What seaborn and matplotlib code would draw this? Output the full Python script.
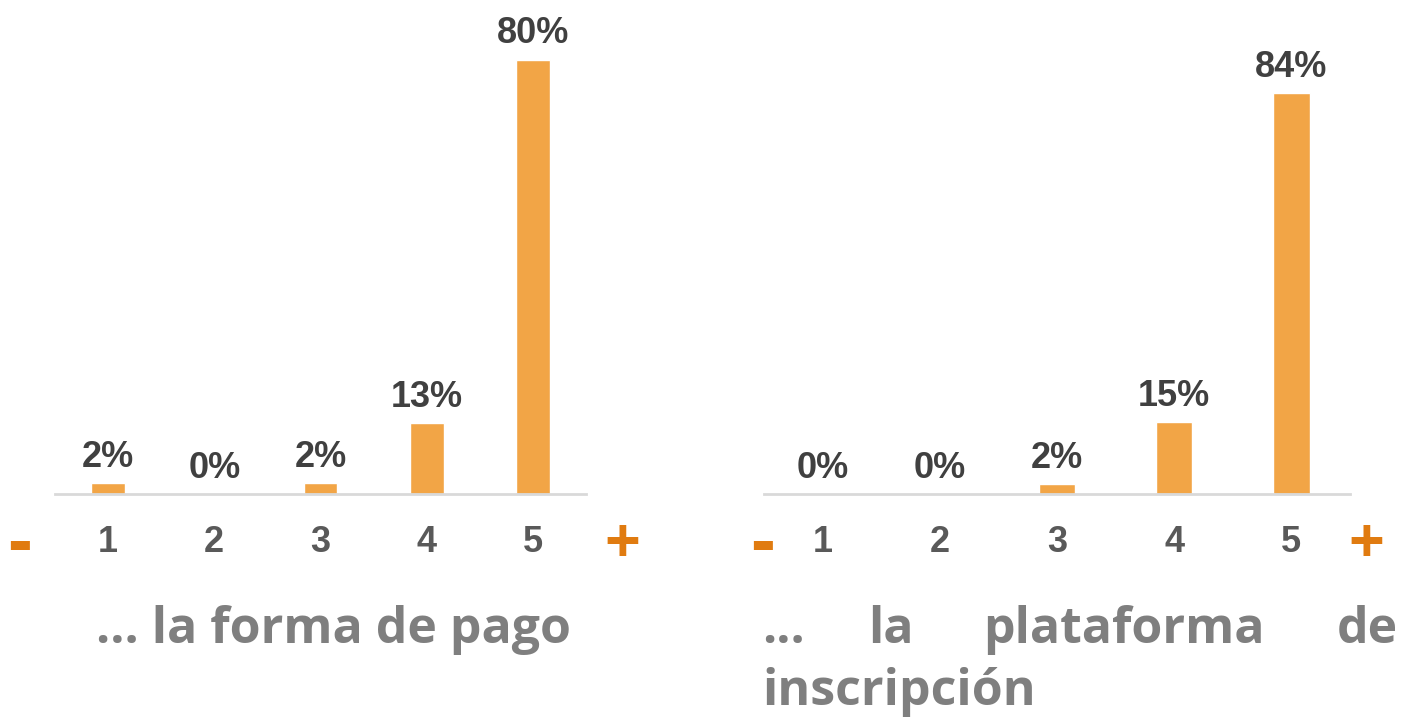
import matplotlib
matplotlib.use("Agg")
import matplotlib.pyplot as plt
import seaborn as sns
import pandas as pd

sns.set_theme(style="white")
plt.rcParams['font.family'] = ['Liberation Sans', 'DejaVu Sans']

scores = ["1", "2", "3", "4", "5"]
pago = [2, 0, 2, 13, 80]
plataforma = [0, 0, 2, 15, 84]

BAR = "#F2A546"
ORANGE = "#E07B10"
LABEL = "#404040"
TICK = "#595959"
TITLE = "#7F7F7F"

fig = plt.figure(figsize=(14.11, 7.18), dpi=100)
W, H = 1411.0, 718.0

def px_axes(x0, x1, y_top, y_base):
    return fig.add_axes([x0 / W, 1 - y_base / H, (x1 - x0) / W, (y_base - y_top) / H])

def draw_panel(ax, vals, ymax, width):
    df = pd.DataFrame({"score": scores, "pct": vals})
    sns.barplot(data=df, x="score", y="pct", color=BAR, width=width,
                saturation=1, ax=ax)
    ax.set_ylim(0, ymax)
    for i, v in enumerate(vals):
        ax.annotate("%d%%" % v, (i, v), xytext=(0, 6), textcoords="offset points",
                    ha="center", va="bottom", fontsize=26, fontweight="bold",
                    color=LABEL)
    for s in ["top", "left", "right"]:
        ax.spines[s].set_visible(False)
    ax.spines["bottom"].set_color("#D9D9D9")
    ax.spines["bottom"].set_linewidth(2)
    ax.set_yticks([])
    ax.set_xlabel("")
    ax.set_ylabel("")
    ax.tick_params(axis="x", length=0, pad=22, labelsize=26, labelcolor=TICK)
    for t in ax.get_xticklabels():
        t.set_fontweight("bold")

ax1 = px_axes(55, 586, 20, 494)
draw_panel(ax1, pago, 474 / 5.43, 0.32)
ax2 = px_axes(764, 1350, 20, 494)
draw_panel(ax2, plataforma, 474 / 4.77, 0.31)

# minus / plus markers
for x in [20, 763]:
    fig.text(x / W, 1 - 545 / H, "-", ha="center", va="center", fontsize=54,
             fontweight="bold", color=ORANGE)
for x in [622, 1366]:
    fig.text(x / W, 1 - 545 / H, "+", ha="center", va="center", fontsize=44,
             fontweight="bold", color=ORANGE)

tfont = dict(fontsize=36, fontweight="bold", color=TITLE, family=["Open Sans", "DejaVu Sans"])
fig.text(333 / W, 1 - 630 / H, "... la forma de pago", ha="center", va="center", **tfont)
# justified title on the right
fig.text(762 / W, 1 - 630 / H, "...", ha="left", va="center", **tfont)
fig.text(868 / W, 1 - 630 / H, "la", ha="left", va="center", **tfont)
fig.text(983 / W, 1 - 630 / H, "plataforma", ha="left", va="center", **tfont)
fig.text(1398 / W, 1 - 630 / H, "de", ha="right", va="center", **tfont)
fig.text(762 / W, 1 - 692 / H, "inscripción", ha="left", va="center", **tfont)

fig.savefig("out.png", dpi=100)
